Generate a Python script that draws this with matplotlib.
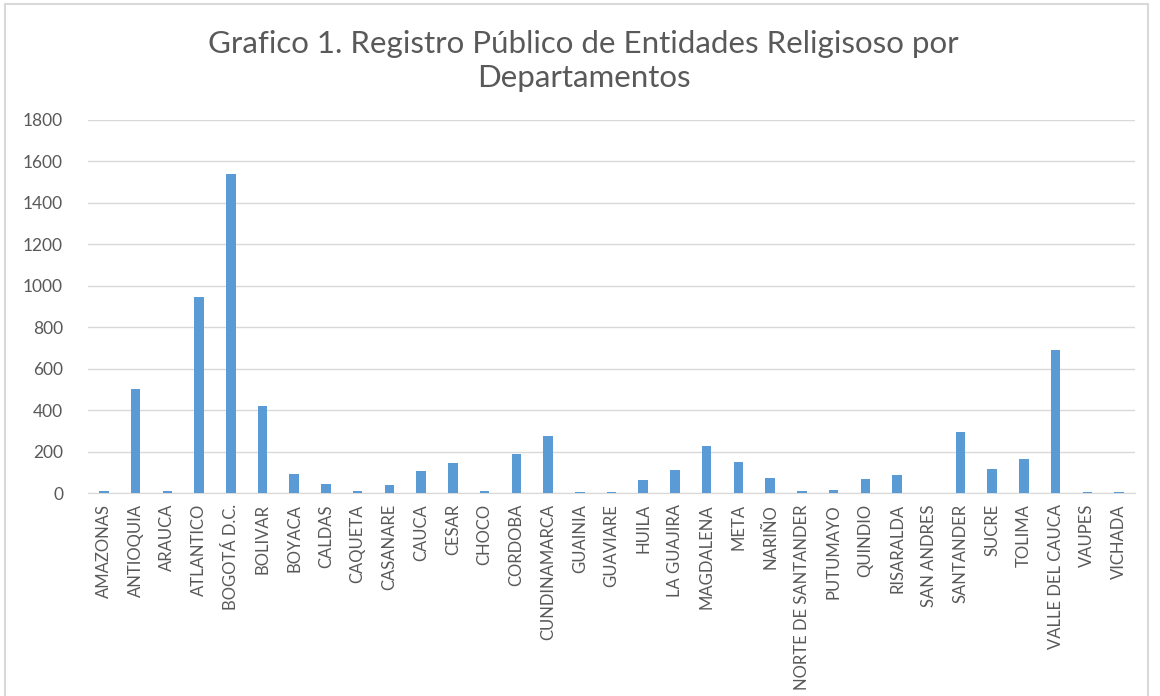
import matplotlib.pyplot as plt

departamentos = ['AMAZONAS', 'ANTIOQUIA', 'ARAUCA', 'ATLANTICO', 'BOGOTÁ D.C.', 'BOLIVAR',
                 'BOYACA', 'CALDAS', 'CAQUETA', 'CASANARE', 'CAUCA', 'CESAR', 'CHOCO',
                 'CORDOBA', 'CUNDINAMARCA', 'GUAINIA', 'GUAVIARE', 'HUILA', 'LA GUAJIRA',
                 'MAGDALENA', 'META', 'NARIÑO', 'NORTE DE SANTANDER', 'PUTUMAYO', 'QUINDIO',
                 'RISARALDA', 'SAN ANDRES', 'SANTANDER', 'SUCRE', 'TOLIMA', 'VALLE DEL CAUCA',
                 'VAUPES', 'VICHADA']
registros = [12, 502, 12, 946, 1540, 418,
             90, 45, 11, 40, 104, 147, 11,
             187, 275, 6, 6, 64, 109,
             226, 152, 74, 11, 16, 69,
             88, 0, 294, 118, 162, 690,
             6, 6]
y_ticks = [0, 200, 400, 600, 800, 1000, 1200, 1400, 1600, 1800]

plt.rcParams['font.family'] = ['Lato', 'DejaVu Sans']
gris = '#595959'

fig = plt.figure(figsize=(11.6, 6.96), dpi=100)
ax = fig.add_axes([88 / 1160, 1 - 493 / 696, (1135 - 88) / 1160, (493 - 120) / 696])

x = list(range(len(departamentos)))
ax.bar(x, registros, width=0.3, color='#5B9BD5', zorder=3)

ax.set_xlim(-0.5, len(departamentos) - 0.5)
ax.set_ylim(0, 1800)
ax.set_yticks(y_ticks)
ax.set_yticklabels([str(v) for v in y_ticks], fontsize=12.5, color=gris)
ax.set_xticks(x)
ax.set_xticklabels(departamentos, rotation=90, fontsize=12, color=gris)
ax.tick_params(axis='both', length=0, pad=8)
ax.tick_params(axis='y', pad=18)
ax.yaxis.grid(True, color='#D9D9D9', linewidth=1, zorder=0)
for s in ['top', 'right', 'left']:
    ax.spines[s].set_visible(False)
ax.spines['bottom'].set_color('#D9D9D9')

fig.text(0.503, 0.937, 'Grafico 1. Registro Público de Entidades Religisoso por',
         ha='center', va='center', fontsize=22.5, color=gris)
fig.text(0.503, 0.888, 'Departamentos', ha='center', va='center', fontsize=22.5, color=gris)

# borde del grafico
fig.patches.append(plt.Rectangle((5 / 1160, -0.01), 1143 / 1160, 1 - 4 / 696 + 0.01,
                                 transform=fig.transFigure, fill=False,
                                 edgecolor='#D9D9D9', linewidth=1.5))

plt.savefig('out.png', dpi=100)
plt.close()
